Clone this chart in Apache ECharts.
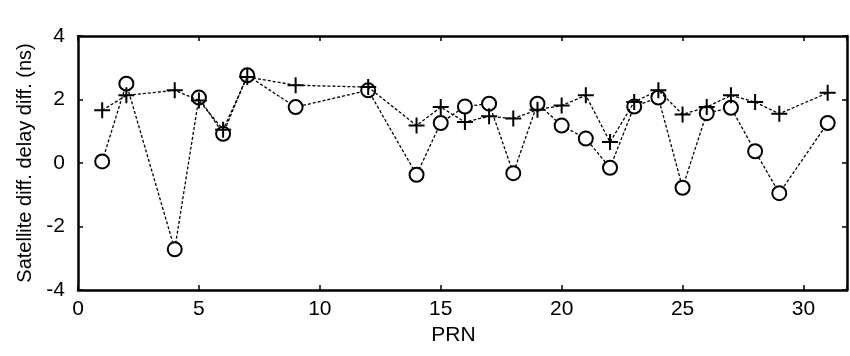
<!DOCTYPE html>
<html>
<head>
<meta charset="utf-8">
<script src="https://cdn.jsdelivr.net/npm/echarts@6/dist/echarts.min.js"></script>
<style>html,body{margin:0;padding:0;background:#fff;}#c{width:850px;height:356px;}</style>
</head>
<body>
<div id="c"></div>
<script>
var prn = [1,2,4,5,6,7,9,12,14,15,16,17,18,19,20,21,22,23,24,25,26,27,28,29,31];
var circleVals = [0.05,2.5,-2.72,2.06,0.92,2.76,1.76,2.29,-0.37,1.26,1.78,1.87,-0.32,1.87,1.18,0.77,-0.15,1.78,2.06,-0.78,1.57,1.74,0.37,-0.95,1.26];
var plusVals = [1.66,2.13,2.29,1.97,1.05,2.71,2.45,2.39,1.18,1.76,1.29,1.47,1.4,1.68,1.81,2.13,0.66,1.92,2.29,1.53,1.76,2.13,1.92,1.55,2.21];
var xTicks = [0,5,10,15,20,25,30];
var yTicks = [-4,-2,0,2,4];

var circleData = prn.map(function(p,i){return [p, circleVals[i]];});
var plusData = prn.map(function(p,i){return [p, plusVals[i]];});

var font = 'Liberation Sans, Arial, sans-serif';
var chart = echarts.init(document.getElementById('c'), null, {renderer:'canvas'});
var axisLine = {show:true, onZero:false, lineStyle:{color:'#000', width:2.5}};
var tick = {show:true, inside:true, length:5, lineStyle:{color:'#000', width:1.5}};
chart.setOption({
  backgroundColor:'#fff',
  animation:false,
  grid:{left:78, top:36, width:774, height:254, containLabel:false},
  xAxis:[{
    type:'value', min:0, max:31.8, interval:5,
    axisLine:axisLine, axisTick:tick, splitLine:{show:false},
    axisLabel:{color:'#000', fontSize:21, fontFamily:font, margin:9,
      formatter:function(v){return xTicks.indexOf(v)>=0? String(v):'';}},
    name:'PRN', nameLocation:'middle', nameGap:31,
    nameTextStyle:{color:'#000', fontSize:21, fontFamily:font, padding:[0,18,0,0]}
  },{
    type:'value', position:'top', min:0, max:31.8, interval:5,
    axisLine:axisLine, axisTick:tick, axisLabel:{show:false}, splitLine:{show:false}
  }],
  yAxis:[{
    type:'value', min:-4, max:4, interval:2,
    axisLine:axisLine, axisTick:tick, splitLine:{show:false},
    axisLabel:{color:'#000', fontSize:21, fontFamily:font, margin:13,
      formatter:function(v){return yTicks.indexOf(v)>=0? String(v):'';}},
    name:'Satellite diff. delay diff. (ns)', nameLocation:'middle', nameGap:42,
    nameTextStyle:{color:'#000', fontSize:20, fontFamily:font}
  },{
    type:'value', position:'right', min:-4, max:4, interval:2,
    axisLine:axisLine, axisTick:tick, axisLabel:{show:false}, splitLine:{show:false}
  }],
  series:[{
    type:'line', data:circleData, symbol:'emptyCircle', symbolSize:14,
    lineStyle:{color:'#000', width:1.3, type:[3,2]},
    itemStyle:{color:'#000', borderColor:'#000', borderWidth:1.5},
    z:3
  },{
    type:'line', data:plusData, symbol:'path://M5,0 L5,10 M0,5 L10,5', symbolSize:16,
    lineStyle:{color:'#000', width:1.3, type:[3,2]},
    itemStyle:{color:'none', borderColor:'#000', borderWidth:2},
    z:4
  }]
});
</script>
</body>
</html>
